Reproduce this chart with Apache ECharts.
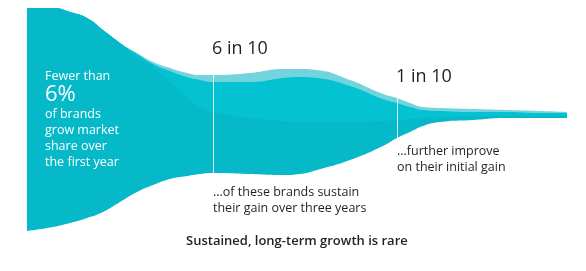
<!DOCTYPE html>
<html>
<head>
<meta charset="utf-8">
<script src="https://cdn.jsdelivr.net/npm/echarts@6/dist/echarts.min.js"></script>
<style>
html,body{margin:0;padding:0;background:#fff;}
#chart{width:586px;height:271px;}
</style>
</head>
<body>
<div id="chart"></div>
<script>
// Positions along the flow (horizontal units)
var positions = [0,26,43,60,76,93,110,126,143,160,173,186,223,256,273,290,323,356,370,383,396,413,446,480,513,540];
// Height of the bottom edge above the baseline
var baseHeight = [1,5,9,14,20,30,40,47,53,56,58,59,58,57,58,62,72,86,94,100,106,110,112,114,114,114];
// Thickness of the lower (darker) band
var lowerBand = [223,219,211,200,182,159,135,118,97,79,67,61,56,54,52,48,38,25,18,13,8,5,4,2,2,2];
// Thickness of the middle band
var middleBand = [0,0,0,0,0,0,3,3,11,20,27,30,36,43,45,44,36,22,17,12,8,6,4,4,3,3];
// Thickness of the light top band
var lightBand = [0,0,0,0,0,0,1,2,3,4,5,7,9,9,8,8,6,5,5,4,3,3,3,2,2,1];
// Positions of the two milestone markers
var milestones = [186, 370];

var mainTexts = ['6 in 10', '1 in 10'];
var subTexts = [['...of these brands sustain', 'their gain over three years'], ['...further improve', 'on their initial gain']];
var leftText = ['Fewer than', '6%', 'of brands', 'grow market', 'share over', 'the first year'];
var caption = 'Sustained, long-term growth is rare';

// cumulative edges
var lowerTop = baseHeight.map(function(v,i){ return v + lowerBand[i]; });
var middleTop = lowerTop.map(function(v,i){ return v + middleBand[i]; });
var topEdge = middleTop.map(function(v,i){ return v + lightBand[i]; });

function pairs(arr){ return positions.map(function(x,i){ return [x, arr[i]]; }); }

function mkSeries(name, arr, color, z){
  return {
    name: name, type: 'line', data: pairs(arr), z: z,
    smooth: 0.5, showSymbol: false, symbol: 'none', silent: true,
    lineStyle: {width: 0, opacity: 0},
    areaStyle: {color: color, opacity: 1, origin: 'start'},
    emphasis: {disabled: true}
  };
}

var markData = milestones.map(function(x){
  var i = positions.indexOf(x);
  return [{coord: [x, baseHeight[i]]}, {coord: [x, topEdge[i]]}];
});

var chart = echarts.init(document.getElementById('chart'), null, {renderer: 'canvas'});
var textFont = '"Open Sans", Lato, sans-serif';
var dark = '#231f20';

var graphics = [];
var lx = 45, ly = [78, 97, 116, 132, 148, 164];
leftText.forEach(function(t, i){
  graphics.push({type: 'text', z: 100, left: lx, top: ly[i] - (i === 1 ? 13 : 8), silent: true,
    style: {text: t, fill: '#ffffff', font: (i === 1 ? '400 22px ' : '400 12.5px ') + textFont}});
});
graphics.push({type:'text', z: 100, left: 212, top: 40, silent:true, style:{text: mainTexts[0], fill: dark, font: '400 18px ' + textFont}});
graphics.push({type:'text', z: 100, left: 396, top: 68, silent:true, style:{text: mainTexts[1], fill: dark, font: '400 18px ' + textFont}});
graphics.push({type:'text', z: 100, left: 213, top: 185, silent:true, style:{text: subTexts[0].join('\n'), fill: dark, font: '400 12.5px ' + textFont, lineHeight: 15.5}});
graphics.push({type:'text', z: 100, left: 397, top: 144, silent:true, style:{text: subTexts[1].join('\n'), fill: dark, font: '400 12.5px ' + textFont, lineHeight: 15.5}});
graphics.push({type:'text', z: 100, left: 186, top: 235, silent:true, style:{text: caption, fill: dark, font: '600 13px ' + textFont}});

chart.setOption({
  animation: false,
  grid: {left: 27, right: 19, top: 7, bottom: 39},
  xAxis: {type: 'value', min: 0, max: 540, show: false},
  yAxis: {type: 'value', min: 0, max: 225, show: false},
  series: [
    mkSeries('light', topEdge, '#74d4de', 2),
    mkSeries('middle', middleTop, '#05c2d2', 3),
    mkSeries('lower', lowerTop, '#06b9c8', 4),
    mkSeries('base', baseHeight, '#ffffff', 5),
    {
      name: 'markers', type: 'line', data: [], silent: true, z: 6,
      markLine: {
        silent: true, symbol: ['none','none'], label: {show: false},
        lineStyle: {color: 'rgba(255,255,255,0.85)', width: 1, type: 'solid'},
        emphasis: {disabled: true},
        data: markData
      }
    }
  ],
  graphic: graphics
});
</script>
</body>
</html>
